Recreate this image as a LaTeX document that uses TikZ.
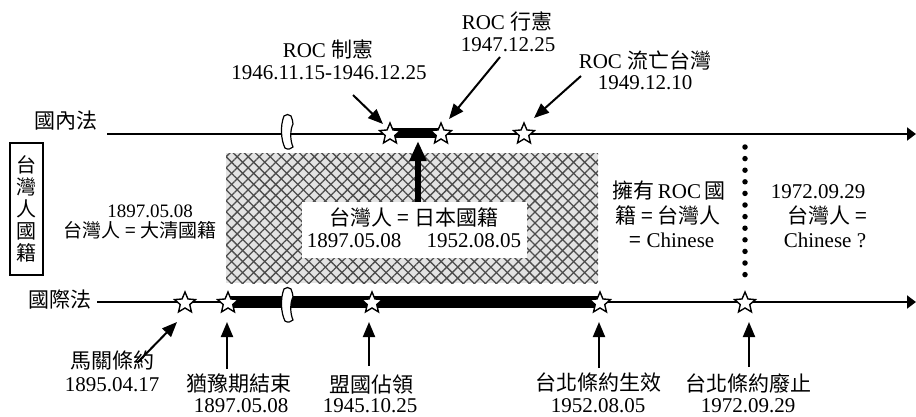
\documentclass[tikz,border=0pt]{standalone}
\usepackage{fontspec}
\setmainfont{Liberation Serif}
\newfontfamily\cjk{Noto Sans CJK TC}
\usetikzlibrary{arrows.meta,shapes.geometric,patterns.meta}
\tikzset{
  txt/.style={inner sep=0pt, font=\fontsize{21}{23}\selectfont},
  smalltxt/.style={inner sep=0pt, font=\fontsize{19}{21}\selectfont},
  cj/.style={inner sep=0pt, font=\fontsize{21}{23}\selectfont\cjk},
  mystar/.style={star, star points=5, star point ratio=2.2, minimum size=22pt, inner sep=0pt, draw, fill=white, line width=1.4pt},
  mainline/.style={line width=2pt, -{Triangle[length=9pt,width=13pt]}},
  arr/.style={line width=2pt, -{Triangle[length=15pt,width=12pt]}},
  bigarr/.style={line width=5.5pt, -{Triangle[length=20pt,width=16pt]}},
  brk/.pic={\draw[fill=white,line width=1.2pt] (-3,-16) .. controls (-7,-6) and (-6,8) .. (-2,16) .. controls (1,18) and (4,17) .. (6,15) .. controls (3,8) and (3,-2) .. (6,-8) .. controls (7,-11) and (4,-13) .. (4,-16) .. controls (2,-18) and (-1,-18) .. (-3,-16) -- cycle;}
}
\begin{document}
\begin{tikzpicture}[x=1pt,y=-1pt]
\useasboundingbox (0,0) rectangle (916,416);
% hatched region
\fill[gray!22] (226,153) rectangle (598,283);
\fill[pattern={Lines[angle=45,distance=7.8pt,line width=1.3pt]},pattern color=black!70] (226,153) rectangle (598,283);
\fill[pattern={Lines[angle=-45,distance=7.8pt,line width=1.3pt]},pattern color=black!70] (226,153) rectangle (598,283);
\fill[white] (302,202) rectangle (527,258);
% main lines
\coordinate (topL) at (107,134);
\coordinate (topR) at (916,134);
\coordinate (botL) at (97,302);
\coordinate (botR) at (916,302);
\draw[mainline] (topL) -- (topR);
\draw[mainline] (botL) -- (botR);
% thick bars
\coordinate (tb1) at (390,133);
\coordinate (tb2) at (441,133);
\draw[line width=10pt] (tb1) -- (tb2);
\coordinate (bb1) at (228,302);
\coordinate (bb2) at (600,302);
\draw[line width=12.5pt] (bb1) -- (bb2);
% breaks
\pic at (287,132) {brk};
\pic at (287,305) {brk};
% stars
\node[mystar] (s1) at (390,134) {};
\node[mystar] (s2) at (441,134) {};
\node[mystar] (s3) at (524,134) {};
\node[mystar] (b1) at (185,303) {};
\node[mystar] (b2) at (228,303) {};
\node[mystar] (b3) at (372,303) {};
\node[mystar] (b4) at (600,303) {};
\node[mystar] (b5) at (745,303) {};
% left labels
\node[cj] (nei) at (66,121) {國內法};
\node[cj] (ji) at (60,300) {國際法};
\draw[line width=1.5pt] (10,143) rectangle (43,275);
\node[inner sep=0pt, font=\fontsize{20}{23}\selectfont\cjk, align=center] (vt) at (26.5,209) {台\\[-1pt]灣\\[-1pt]人\\[-1pt]國\\[-1pt]籍};
% top annotations
\node[txt] (t1a) at (328,49) {ROC {\cjk 制憲}};
\node[txt] (t1b) at (329,73) {1946.11.15-1946.12.25};
\node[txt] (t2a) at (507,21) {ROC {\cjk 行憲}};
\node[txt] (t2b) at (508,45) {1947.12.25};
\node[txt] (t3a) at (645,60) {ROC {\cjk 流亡台灣}};
\node[txt] (t3b) at (645,83) {1949.12.10};
\coordinate (a1s) at (353,95);  \coordinate (a1e) at (383,124);
\coordinate (a2s) at (500,57);  \coordinate (a2e) at (449,119);
\coordinate (a3s) at (581,76);  \coordinate (a3e) at (534,118);
\draw[arr] (a1s) -- (a1e);
\draw[arr] (a2s) -- (a2e);
\draw[arr] (a3s) -- (a3e);
% middle texts
\node[smalltxt] (m1a) at (150,211) {1897.05.08};
\node[inner sep=0pt, font=\fontsize{19}{21}\selectfont\cjk] (m1b) at (140,230) {台灣人 = 大清國籍};
\node[cj] (m2a) at (414,217) {台灣人 = 日本國籍};
\node[txt] (m2b) at (414,241) {1897.05.08\hspace{1.2em}1952.08.05};
\coordinate (ua) at (418,202);
\coordinate (ub) at (418,141);
\draw[bigarr] (ua) -- (ub);
\node[txt] (m3a) at (669,191) {{\cjk 擁有}\,ROC\,{\cjk 國}};
\node[cj] (m3b) at (668,215) {籍 = 台灣人};
\node[txt] (m3c) at (672,240) {{\cjk =} Chinese};
\node[txt] (m4a) at (818,192) {1972.09.29};
\node[cj] (m4b) at (827,215) {台灣人 =};
\node[txt] (m4c) at (825,240) {Chinese ?};
\coordinate (d1) at (745,147);
\coordinate (d2) at (745,283);
\draw[line width=5.5pt, dash pattern=on 0pt off 11.6pt, line cap=round] (d1) -- (d2);
% bottom annotations
\node[cj] (l1a) at (112,361) {馬關條約};
\node[txt] (l1b) at (112,385) {1895.04.17};
\node[cj] (l2a) at (239,384) {猶豫期結束};
\node[txt] (l2b) at (241,406) {1897.05.08};
\node[cj] (l3a) at (371,384) {盟國佔領};
\node[txt] (l3b) at (370,406) {1945.10.25};
\node[cj] (l4a) at (598,383) {台北條約生效};
\node[txt] (l4b) at (598,406) {1952.08.05};
\node[cj] (l5a) at (748,383) {台北條約廢止};
\node[txt] (l5b) at (748,406) {1972.09.29};
\coordinate (c1s) at (137,363); \coordinate (c1e) at (177,322);
\coordinate (c2s) at (227,369); \coordinate (c2e) at (227,322);
\coordinate (c3s) at (369,366); \coordinate (c3e) at (369,322);
\coordinate (c4s) at (599,368); \coordinate (c4e) at (599,322);
\coordinate (c5s) at (749,367); \coordinate (c5e) at (749,322);
\draw[arr] (c1s) -- (c1e);
\draw[arr] (c2s) -- (c2e);
\draw[arr] (c3s) -- (c3e);
\draw[arr] (c4s) -- (c4e);
\draw[arr] (c5s) -- (c5e);
\end{tikzpicture}
\end{document}
